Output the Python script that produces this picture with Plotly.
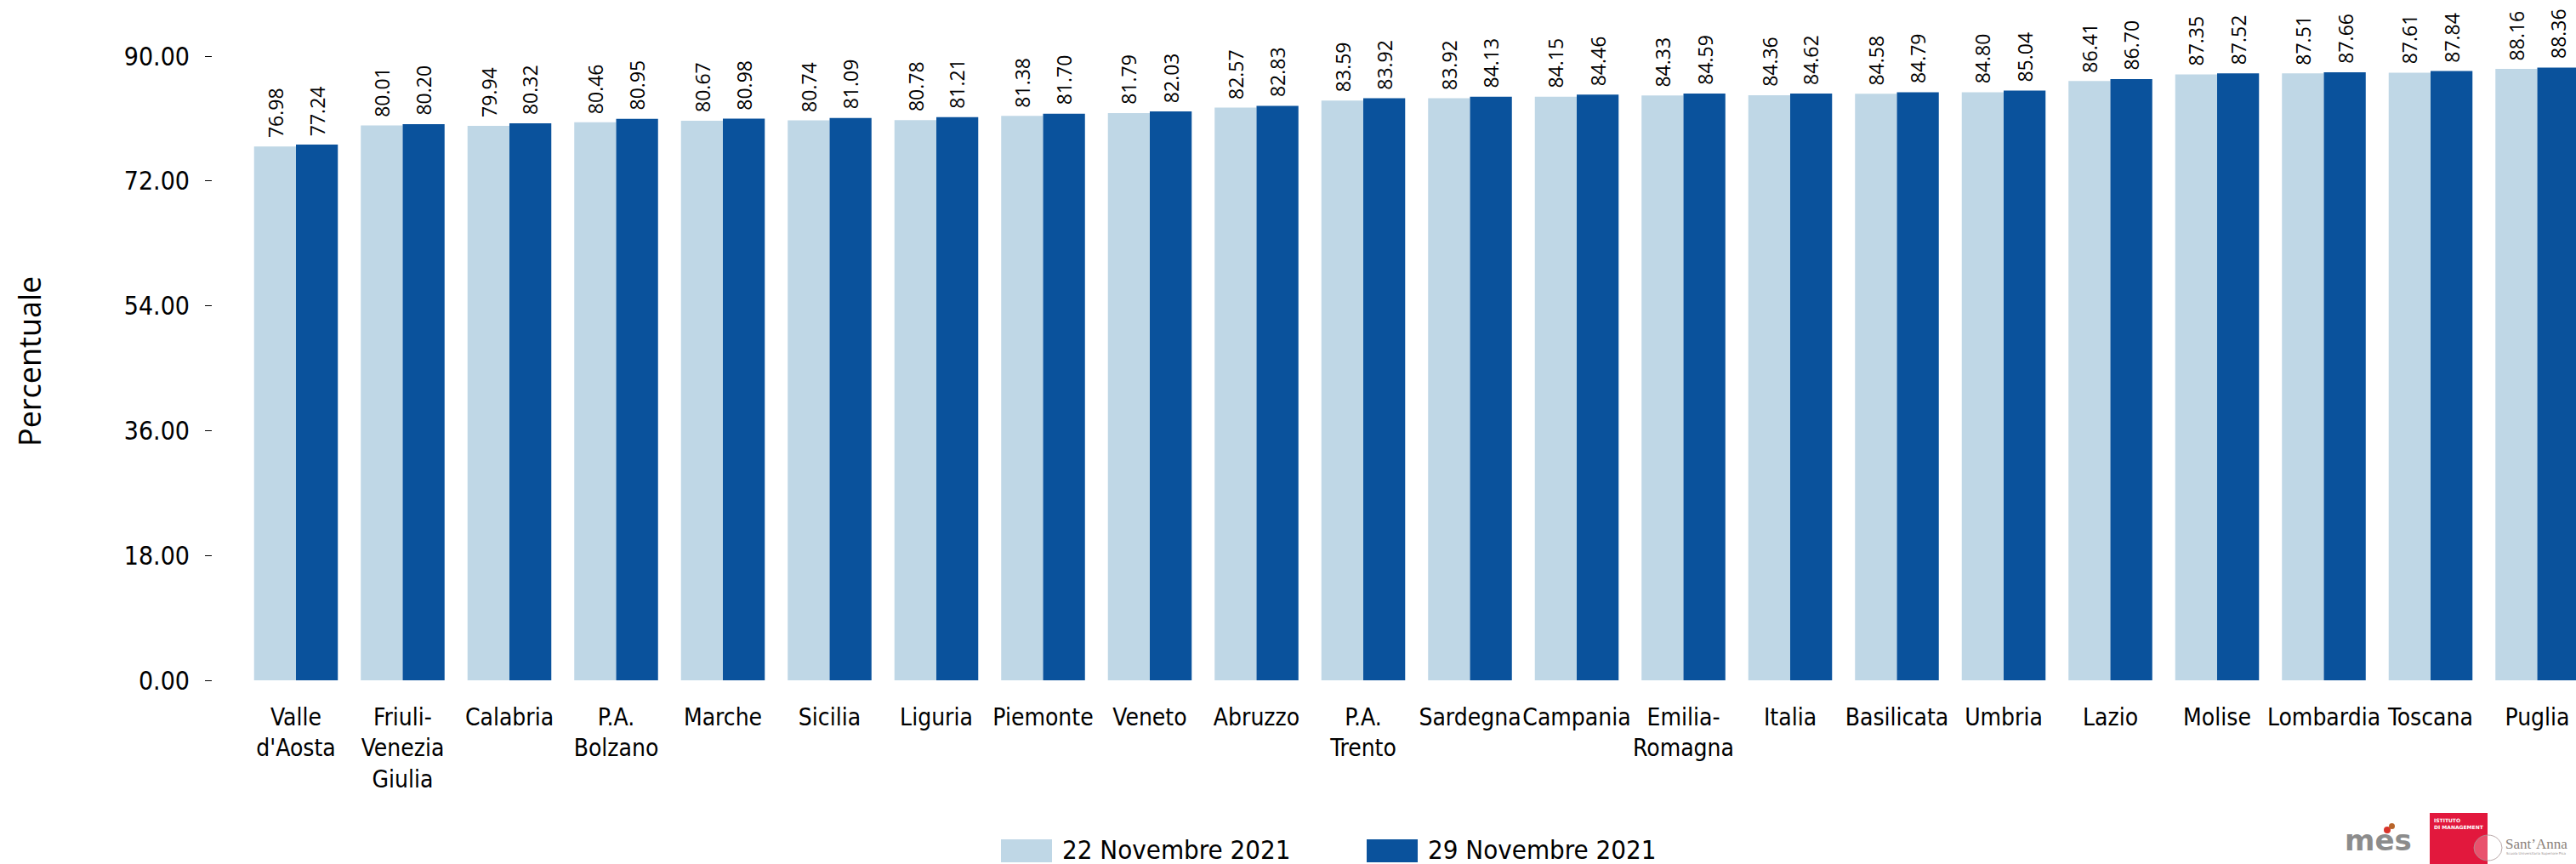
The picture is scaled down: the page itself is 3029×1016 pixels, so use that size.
import plotly.graph_objects as go

# Vaccination coverage by region (percent), two reference dates
regions = [
    "Valle<br>d'Aosta", "Friuli-<br>Venezia<br>Giulia", "Calabria", "P.A.<br>Bolzano",
    "Marche", "Sicilia", "Liguria", "Piemonte", "Veneto", "Abruzzo", "P.A.<br>Trento",
    "Sardegna", "Campania", "Emilia-<br>Romagna", "Italia", "Basilicata", "Umbria",
    "Lazio", "Molise", "Lombardia", "Toscana", "Puglia",
]
nov22 = [76.98, 80.01, 79.94, 80.46, 80.67, 80.74, 80.78, 81.38, 81.79, 82.57, 83.59,
         83.92, 84.15, 84.33, 84.36, 84.58, 84.80, 86.41, 87.35, 87.51, 87.61, 88.16]
nov29 = [77.24, 80.20, 80.32, 80.95, 80.98, 81.09, 81.21, 81.70, 82.03, 82.83, 83.92,
         84.13, 84.46, 84.59, 84.62, 84.79, 85.04, 86.70, 87.52, 87.66, 87.84, 88.36]
series_names = ["22 Novembre 2021", "29 Novembre 2021"]
y_ticks = [0, 18, 36, 54, 72, 90]

LIGHT = "#BFD7E6"
DARK = "#0A529C"
NARROW = "DejaVu Sans Condensed, Roboto, sans-serif"

W, H = 3029, 1016
ML, MR, MT, MB = 250, 0, 0, 216
PW, PH = W - ML - MR, H - MT - MB

BARGAP = 0.215
BAR_W = (1 - BARGAP) / 2


def px_x(x):
    return (x - ML) / PW


def px_y(y):
    return (H - MB - y) / PH


fig = go.Figure()
fig.add_trace(go.Bar(x=list(range(len(regions))), y=nov22, name=series_names[0],
                     marker=dict(color=LIGHT, line=dict(width=0))))
fig.add_trace(go.Bar(x=list(range(len(regions))), y=nov29, name=series_names[1],
                     marker=dict(color=DARK, line=dict(width=0))))

annotations = []
# value labels above each bar, rotated
for i, (a, b) in enumerate(zip(nov22, nov29)):
    for off, v in ((-BAR_W / 2, a), (BAR_W / 2, b)):
        annotations.append(dict(
            x=i + off, y=v, xref="x", yref="y", text=f"{v:.2f}", showarrow=False,
            textangle=-90, yanchor="bottom", xanchor="center", yshift=8,
            font=dict(family="Open Sans", size=23, color="#000000"),
        ))

# y-axis title
annotations.append(dict(
    x=px_x(34), y=px_y(425), xref="paper", yref="paper", text="Percentuale",
    showarrow=False, textangle=-90, xanchor="center", yanchor="middle",
    font=dict(family="Open Sans", size=36, color="#000000"),
))

# legend drawn as swatches + labels
shapes = []
legend_items = [(1177, LIGHT, series_names[0]), (1607, DARK, series_names[1])]
for x0, col, name in legend_items:
    shapes.append(dict(type="rect", xref="paper", yref="paper",
                       x0=px_x(x0), x1=px_x(x0 + 60), y0=px_y(1014), y1=px_y(987),
                       fillcolor=col, line=dict(width=0)))
    annotations.append(dict(
        x=px_x(x0 + 70), y=px_y(999), xref="paper", yref="paper", text=name,
        showarrow=False, xanchor="left", yanchor="middle",
        font=dict(family=NARROW, size=31, color="#000000"),
    ))

# logos in the lower-right corner
annotations.append(dict(
    x=px_x(2796), y=px_y(988), xref="paper", yref="paper", text="<b>mes</b>",
    showarrow=False, xanchor="center", yanchor="middle",
    font=dict(family="DejaVu Sans", size=34, color="#8C8C8C"),
))
shapes.append(dict(type="circle", xref="paper", yref="paper",
                   x0=px_x(2803), x1=px_x(2811), y0=px_y(980), y1=px_y(972),
                   fillcolor="#D9342B", line=dict(width=0)))
shapes.append(dict(type="circle", xref="paper", yref="paper",
                   x0=px_x(2809), x1=px_x(2816), y0=px_y(975), y1=px_y(968),
                   fillcolor="#B8652A", line=dict(width=0)))
shapes.append(dict(type="rect", xref="paper", yref="paper",
                   x0=px_x(2857), x1=px_x(2925), y0=px_y(1016), y1=px_y(956),
                   fillcolor="#E2183D", line=dict(width=0)))
annotations.append(dict(
    x=px_x(2860), y=px_y(959), xref="paper", yref="paper",
    text="<b>ISTITUTO<br>DI MANAGEMENT</b>", showarrow=False, align="left",
    xanchor="left", yanchor="top",
    font=dict(family="DejaVu Sans", size=6, color="#FFFFFF"),
))
shapes.append(dict(type="circle", xref="paper", yref="paper",
                   x0=px_x(2909), x1=px_x(2942), y0=px_y(1012), y1=px_y(982),
                   fillcolor="rgba(255,255,255,0.25)",
                   line=dict(color="rgba(170,150,150,0.8)", width=1)))
annotations.append(dict(
    x=px_x(2944), y=px_y(992), xref="paper", yref="paper", text="Sant’Anna",
    showarrow=False, xanchor="left", yanchor="middle",
    font=dict(family="Liberation Serif", size=17, color="#8A7F7A"),
))
annotations.append(dict(
    x=px_x(2945), y=px_y(1004), xref="paper", yref="paper",
    text="Scuola Universitaria Superiore Pisa", showarrow=False,
    xanchor="left", yanchor="middle",
    font=dict(family="DejaVu Sans", size=4, color="#9A9090"),
))

x_lo = -(348 - ML) / 125.5
x_hi = x_lo + PW / 125.5

fig.update_layout(
    width=W, height=H,
    margin=dict(l=ML, r=MR, t=MT, b=MB, pad=0),
    paper_bgcolor="#FFFFFF", plot_bgcolor="#FFFFFF",
    barmode="group", bargap=BARGAP, bargroupgap=0,
    showlegend=False,
    annotations=annotations, shapes=shapes,
    xaxis=dict(
        range=[x_lo, x_hi], tickmode="array",
        tickvals=list(range(len(regions))), ticktext=regions,
        showgrid=False, zeroline=False, showline=False, ticks="",
        tickangle=0, ticklabelstandoff=24,
        tickfont=dict(family=NARROW, size=28, color="#000000"),
    ),
    yaxis=dict(
        range=[0, 800 / (734 / 90)], tickmode="array", tickvals=y_ticks,
        ticktext=[f"{v:.2f}" for v in y_ticks],
        showgrid=False, zeroline=False, showline=False,
        ticks="outside", ticklen=8, tickwidth=1, tickcolor="#000000",
        ticklabelstandoff=12,
        tickfont=dict(family=NARROW, size=30, color="#000000"),
    ),
)

fig.write_html("out.html")
